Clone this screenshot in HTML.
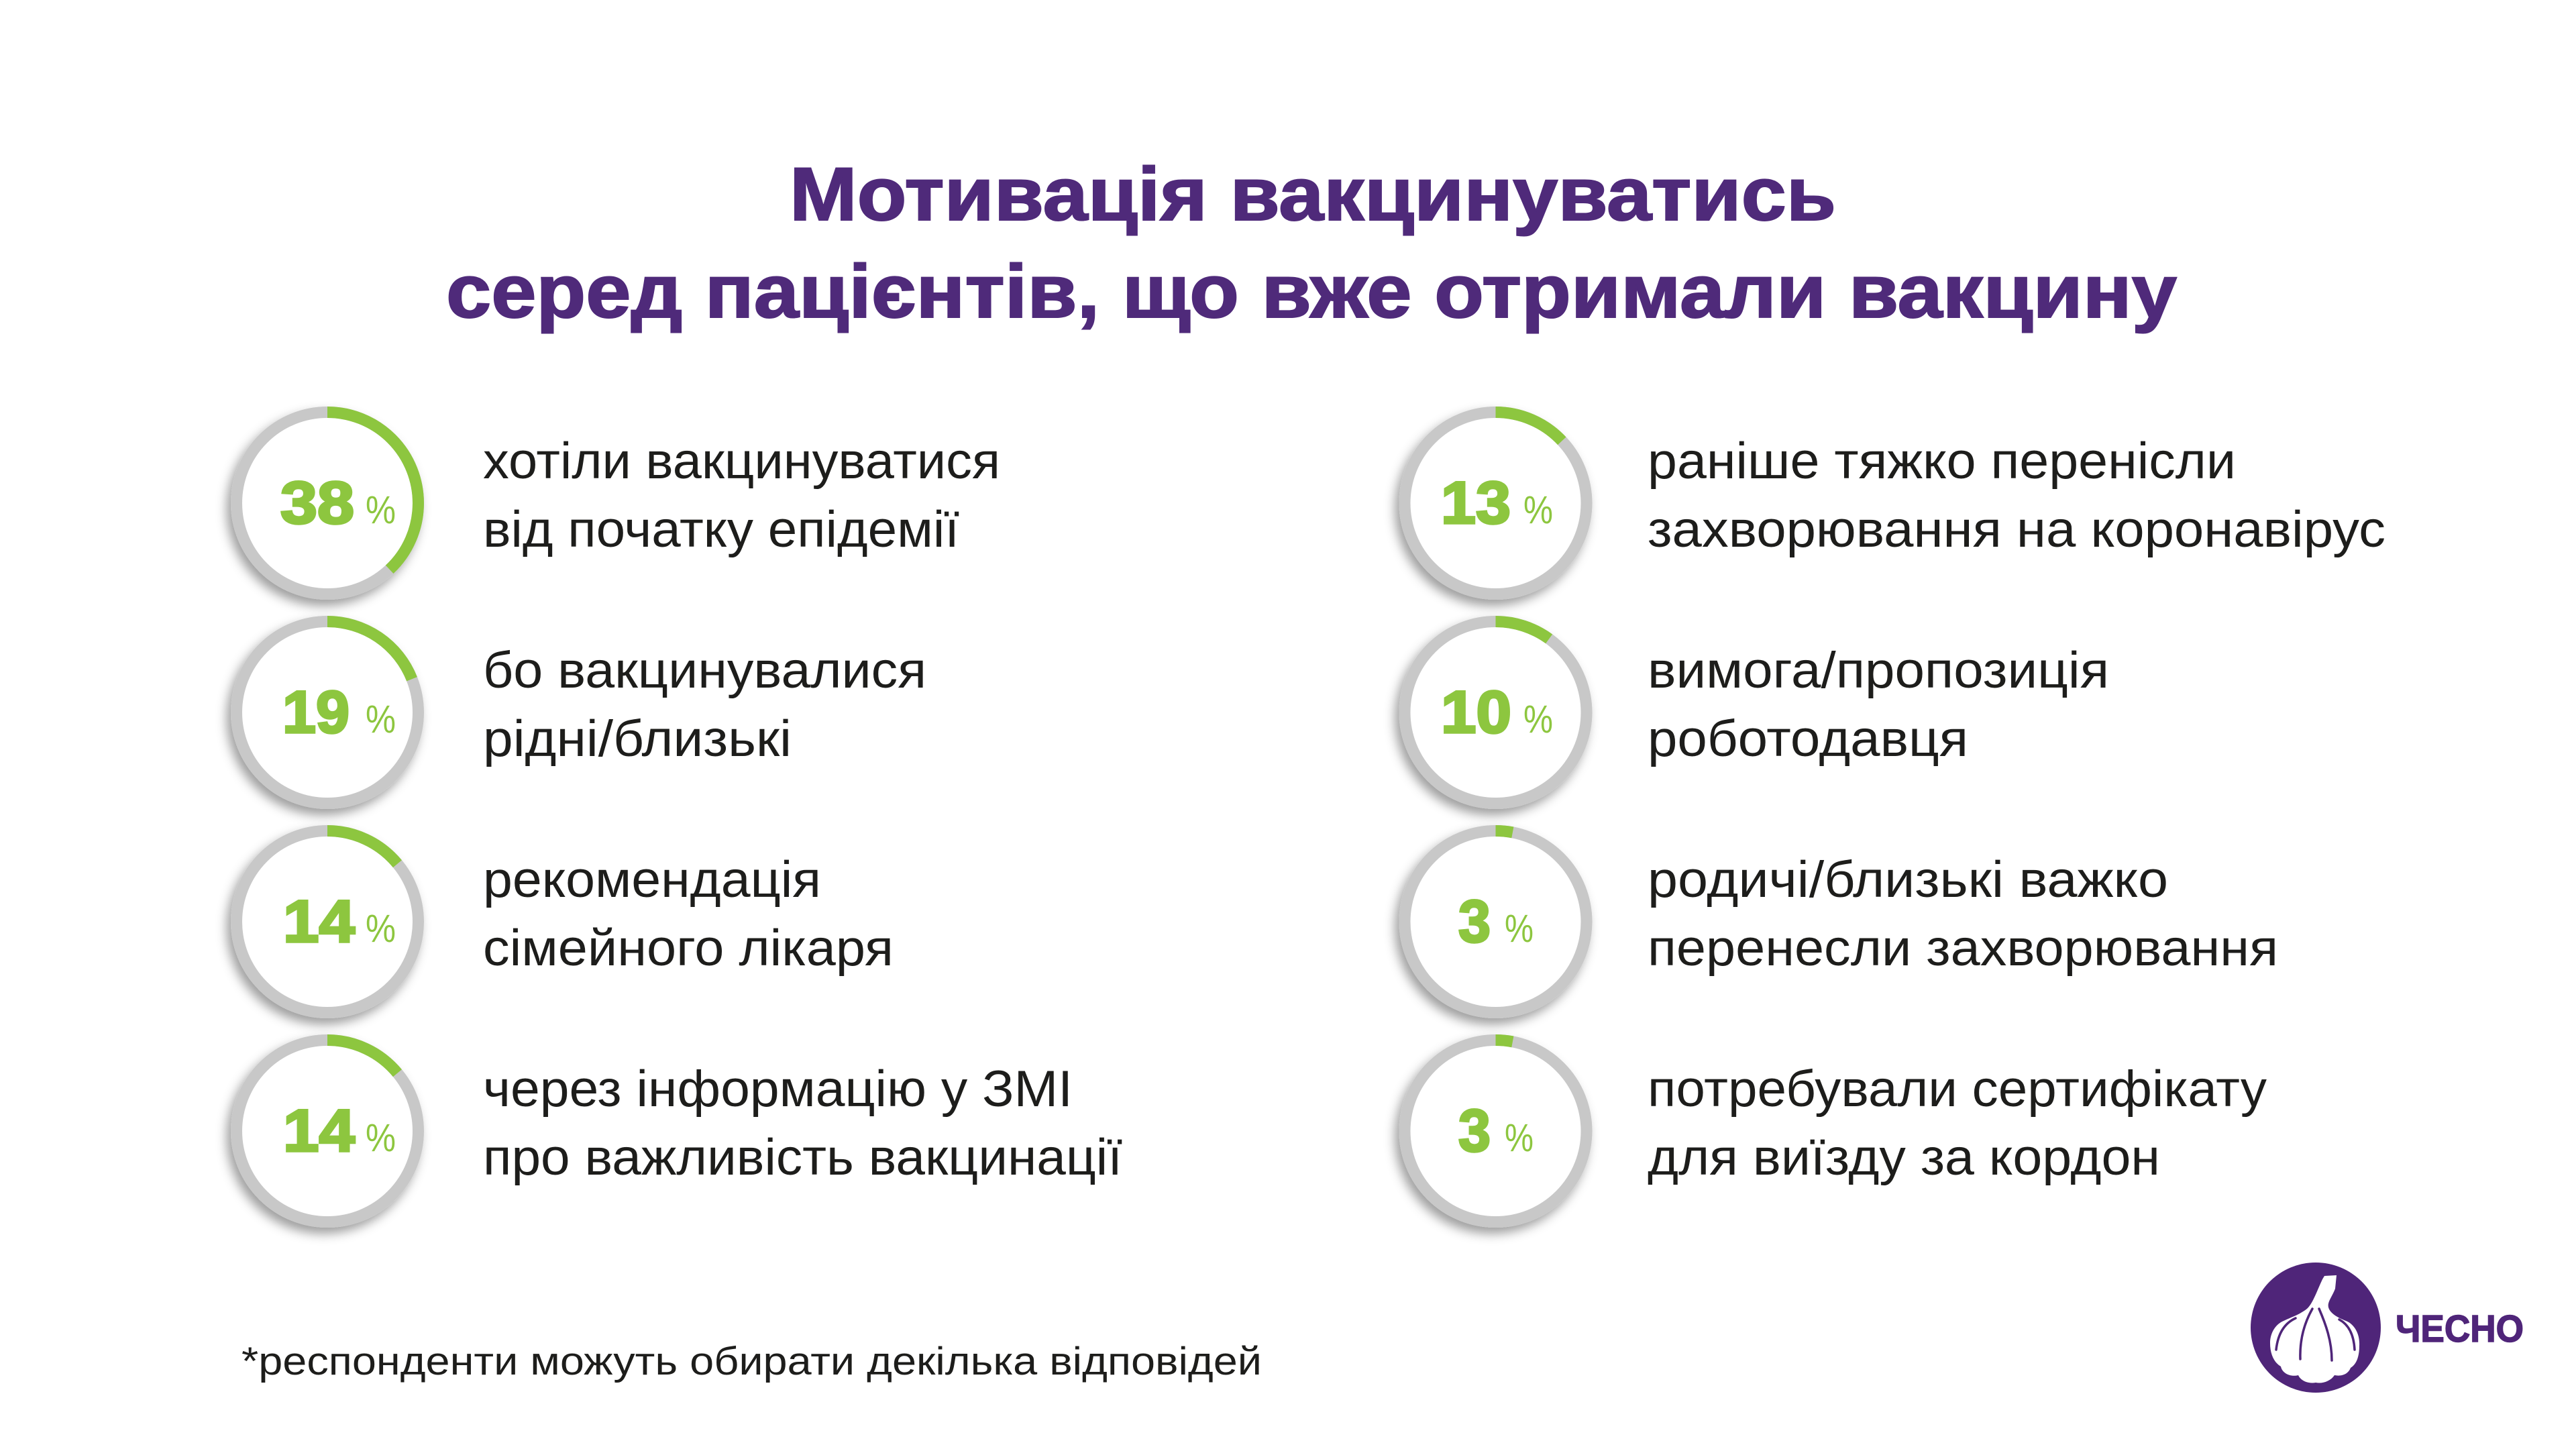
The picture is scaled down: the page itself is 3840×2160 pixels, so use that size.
<!DOCTYPE html>
<html>
<head>
<meta charset="utf-8">
<style>
html,body{margin:0;padding:0;background:#fff;}
svg{display:block;}
</style>
</head>
<body>
<svg width="3840" height="2160" viewBox="0 0 3840 2160" xmlns="http://www.w3.org/2000/svg">
<defs>
<filter id="sh" x="-30%" y="-30%" width="160%" height="160%">
<feDropShadow dx="-6" dy="9" stdDeviation="8" flood-color="#000" flood-opacity="0.38"/>
</filter>
</defs>
<rect width="3840" height="2160" fill="#fff"/>

<!-- Title -->
<g font-family="Liberation Sans, sans-serif" font-weight="bold" font-size="112" fill="#4f2a7a" stroke="#4f2a7a" stroke-width="2">
<text x="1177" y="328" textLength="1560" lengthAdjust="spacingAndGlyphs">Мотивація вакцинуватись</text>
<text x="665" y="473" textLength="2580" lengthAdjust="spacingAndGlyphs">серед пацієнтів, що вже отримали вакцину</text>
</g>

<!-- Circles -->
<g>
<g transform="translate(488,750)">
<circle r="135.5" fill="#fff" stroke="#c8c8c8" stroke-width="17" filter="url(#sh)"/>
<circle r="135.5" fill="none" stroke="#8dc63f" stroke-width="17" stroke-dasharray="323.5 1000" transform="rotate(-90)"/>
</g>
<g transform="translate(488,1062)">
<circle r="135.5" fill="#fff" stroke="#c8c8c8" stroke-width="17" filter="url(#sh)"/>
<circle r="135.5" fill="none" stroke="#8dc63f" stroke-width="17" stroke-dasharray="161.8 1000" transform="rotate(-90)"/>
</g>
<g transform="translate(488,1374)">
<circle r="135.5" fill="#fff" stroke="#c8c8c8" stroke-width="17" filter="url(#sh)"/>
<circle r="135.5" fill="none" stroke="#8dc63f" stroke-width="17" stroke-dasharray="119.2 1000" transform="rotate(-90)"/>
</g>
<g transform="translate(488,1686)">
<circle r="135.5" fill="#fff" stroke="#c8c8c8" stroke-width="17" filter="url(#sh)"/>
<circle r="135.5" fill="none" stroke="#8dc63f" stroke-width="17" stroke-dasharray="119.2 1000" transform="rotate(-90)"/>
</g>
<g transform="translate(2229.5,750)">
<circle r="135.5" fill="#fff" stroke="#c8c8c8" stroke-width="17" filter="url(#sh)"/>
<circle r="135.5" fill="none" stroke="#8dc63f" stroke-width="17" stroke-dasharray="110.7 1000" transform="rotate(-90)"/>
</g>
<g transform="translate(2229.5,1062)">
<circle r="135.5" fill="#fff" stroke="#c8c8c8" stroke-width="17" filter="url(#sh)"/>
<circle r="135.5" fill="none" stroke="#8dc63f" stroke-width="17" stroke-dasharray="85.1 1000" transform="rotate(-90)"/>
</g>
<g transform="translate(2229.5,1374)">
<circle r="135.5" fill="#fff" stroke="#c8c8c8" stroke-width="17" filter="url(#sh)"/>
<circle r="135.5" fill="none" stroke="#8dc63f" stroke-width="17" stroke-dasharray="25.5 1000" transform="rotate(-90)"/>
</g>
<g transform="translate(2229.5,1686)">
<circle r="135.5" fill="#fff" stroke="#c8c8c8" stroke-width="17" filter="url(#sh)"/>
<circle r="135.5" fill="none" stroke="#8dc63f" stroke-width="17" stroke-dasharray="25.5 1000" transform="rotate(-90)"/>
</g>
</g>

<!-- Numbers -->
<g font-family="Liberation Sans, sans-serif" font-weight="bold" font-size="89" fill="#8dc63f" stroke="#8dc63f" stroke-width="3.5">
<text x="418" y="780" textLength="110" lengthAdjust="spacingAndGlyphs">38</text>
<text x="421" y="1092" textLength="100" lengthAdjust="spacingAndGlyphs">19</text>
<text x="422" y="1404" textLength="107" lengthAdjust="spacingAndGlyphs">14</text>
<text x="422" y="1716" textLength="107" lengthAdjust="spacingAndGlyphs">14</text>
<text x="2148" y="780" textLength="104" lengthAdjust="spacingAndGlyphs">13</text>
<text x="2148" y="1092" textLength="105" lengthAdjust="spacingAndGlyphs">10</text>
<text x="2174" y="1404" textLength="48" lengthAdjust="spacingAndGlyphs">3</text>
<text x="2174" y="1716" textLength="48" lengthAdjust="spacingAndGlyphs">3</text>
</g>
<g font-family="Liberation Sans, sans-serif" font-size="58" fill="#8dc63f">
<text x="545" y="780" textLength="45" lengthAdjust="spacingAndGlyphs">%</text>
<text x="545" y="1092" textLength="45" lengthAdjust="spacingAndGlyphs">%</text>
<text x="545" y="1404" textLength="45" lengthAdjust="spacingAndGlyphs">%</text>
<text x="545" y="1716" textLength="45" lengthAdjust="spacingAndGlyphs">%</text>
<text x="2271" y="780" textLength="44" lengthAdjust="spacingAndGlyphs">%</text>
<text x="2271" y="1092" textLength="44" lengthAdjust="spacingAndGlyphs">%</text>
<text x="2243" y="1404" textLength="43" lengthAdjust="spacingAndGlyphs">%</text>
<text x="2243" y="1716" textLength="43" lengthAdjust="spacingAndGlyphs">%</text>
</g>

<!-- Body text -->
<g font-family="Liberation Sans, sans-serif" font-size="76" fill="#1d1d1b">
<text x="720" y="713" textLength="771" lengthAdjust="spacingAndGlyphs">хотіли вакцинуватися</text>
<text x="720" y="815" textLength="710" lengthAdjust="spacingAndGlyphs">від початку епідемії</text>
<text x="720" y="1025" textLength="661" lengthAdjust="spacingAndGlyphs">бо вакцинувалися</text>
<text x="720" y="1127" textLength="460" lengthAdjust="spacingAndGlyphs">рідні/близькі</text>
<text x="720" y="1337" textLength="504" lengthAdjust="spacingAndGlyphs">рекомендація</text>
<text x="720" y="1439" textLength="612" lengthAdjust="spacingAndGlyphs">сімейного лікаря</text>
<text x="720" y="1649" textLength="879" lengthAdjust="spacingAndGlyphs">через інформацію у ЗМІ</text>
<text x="720" y="1751" textLength="953" lengthAdjust="spacingAndGlyphs">про важливість вакцинації</text>

<text x="2456" y="713" textLength="877" lengthAdjust="spacingAndGlyphs">раніше тяжко перенісли</text>
<text x="2456" y="815" textLength="1100" lengthAdjust="spacingAndGlyphs">захворювання на коронавірус</text>
<text x="2456" y="1025" textLength="688" lengthAdjust="spacingAndGlyphs">вимога/пропозиція</text>
<text x="2456" y="1127" textLength="478" lengthAdjust="spacingAndGlyphs">роботодавця</text>
<text x="2456" y="1337" textLength="776" lengthAdjust="spacingAndGlyphs">родичі/близькі важко</text>
<text x="2456" y="1439" textLength="940" lengthAdjust="spacingAndGlyphs">перенесли захворювання</text>
<text x="2456" y="1649" textLength="923" lengthAdjust="spacingAndGlyphs">потребували сертифікату</text>
<text x="2456" y="1751" textLength="764" lengthAdjust="spacingAndGlyphs">для виїзду за кордон</text>
</g>

<!-- Footnote -->
<text x="360" y="2049" font-family="Liberation Sans, sans-serif" font-size="58" fill="#1d1d1b" textLength="1521" lengthAdjust="spacingAndGlyphs">*респонденти можуть обирати декілька відповідей</text>

<!-- Logo -->
<g transform="translate(3452,1979)">
<circle r="97" fill="#4f2579"/>
<path d="M10,-72 L13,-77 L31,-78 L29,-58 C24,-45 17,-38 19,-30 C22,-20 35,-14 45,-10 C58,-5 66,10 65,27 C65,45 60,55 52,60 C48,70 38,73 28,71 C22,80 10,84 0,82 C-10,84 -22,80 -26,71 C-38,74 -50,68 -52,58 C-62,52 -68,40 -68,23 C-68,8 -60,-4 -50,-9 C-38,-15 -22,-20 -12,-29 C-4,-37 2,-55 10,-72 Z" fill="#fff"/>
<g fill="none" stroke="#4f2579" stroke-width="3.5" stroke-linecap="round">
<path d="M-5,-28 C-18,-5 -24,20 -23,47"/>
<path d="M5,-28 C15,-5 24,20 24,49"/>
<path d="M-30,-14 C-50,-5 -57,15 -59,33"/>
<path d="M35,-12 C52,-3 57,15 58,33"/>
</g>
</g>
<text x="3571" y="2000" font-family="Liberation Sans, sans-serif" font-weight="bold" font-size="57" fill="#4f2579" stroke="#4f2579" stroke-width="1.5" textLength="191" lengthAdjust="spacingAndGlyphs">ЧЕСНО</text>
</svg>
</body>
</html>
